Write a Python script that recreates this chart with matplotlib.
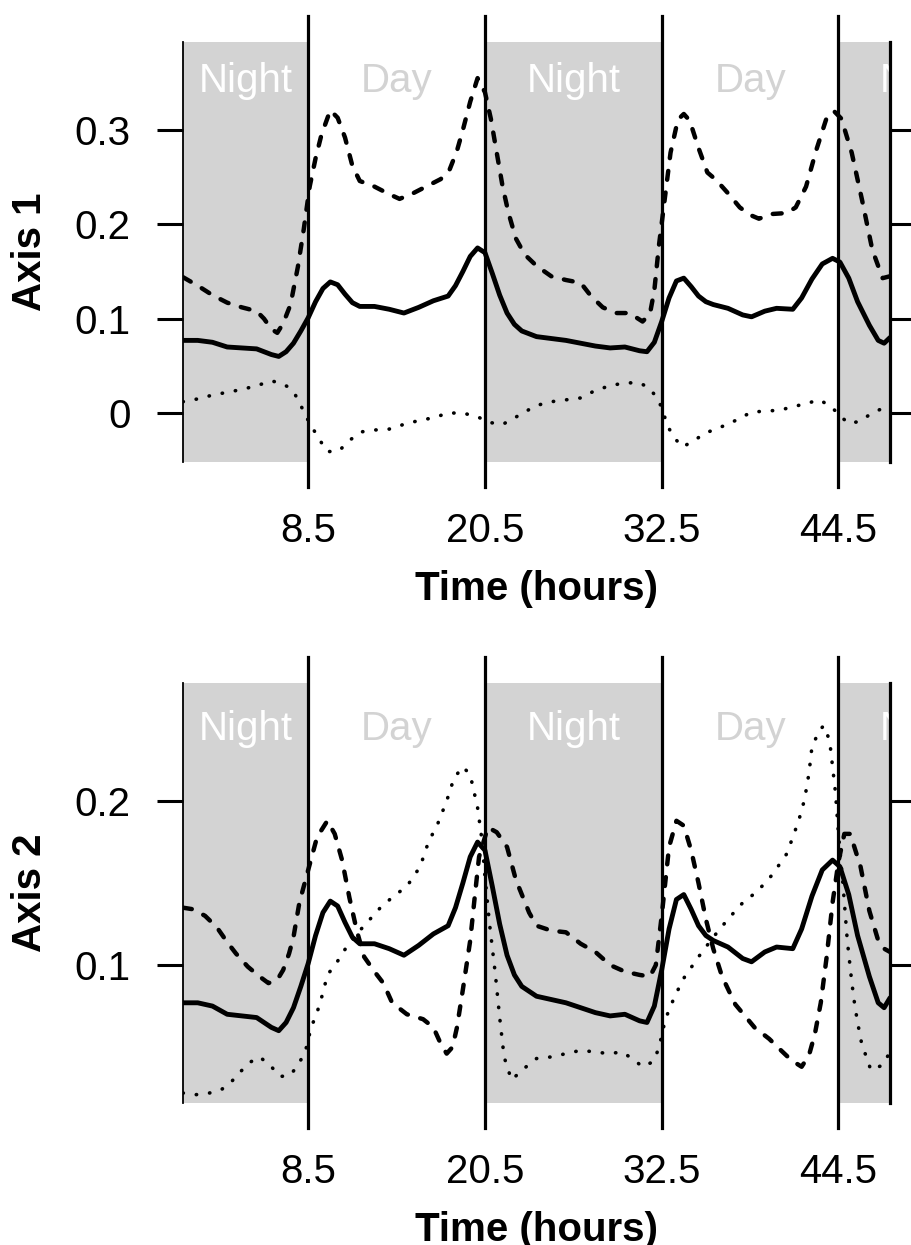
import matplotlib
matplotlib.use("Agg")
import matplotlib.pyplot as plt
import matplotlib.transforms as mtransforms

plt.rcParams["font.family"] = ["Liberation Sans", "DejaVu Sans"]

# light/dark boundaries (hours) and the shaded night spans
BOUNDS = [8.5, 20.5, 32.5, 44.5]
NIGHTS = [(0, 8.5), (20.5, 32.5), (44.5, 48)]
LABEL_X = [4.25, 14.5, 26.5, 38.5, 50.5]
LABEL_TXT = ["Night", "Day", "Night", "Day", "Night"]

# solid curve (same in both panels)
solid_t = [0, 1, 2, 3, 4, 5, 6, 6.5, 7, 7.5, 8, 8.5, 9, 9.5, 10, 10.5, 11, 11.5,
           12, 13, 14, 15, 16, 17, 18, 18.5, 19, 19.5, 20, 20.5, 21, 21.5, 22,
           22.5, 23, 24, 25, 26, 27, 28, 29, 30, 31, 31.5, 32, 32.5, 33, 33.5,
           34, 34.5, 35, 35.5, 36, 37, 38, 38.6, 39.5, 40.3, 41.4, 42, 42.7,
           43.4, 44.1, 44.6, 45.2, 45.8, 46.6, 47.2, 47.6, 48]
solid_v = [0.077, 0.077, 0.075, 0.070, 0.069, 0.068, 0.062, 0.060, 0.065, 0.074,
           0.087, 0.101, 0.118, 0.132, 0.139, 0.136, 0.126, 0.117, 0.113, 0.113,
           0.110, 0.106, 0.112, 0.119, 0.124, 0.135, 0.150, 0.166, 0.175, 0.170,
           0.148, 0.125, 0.106, 0.094, 0.087, 0.081, 0.079, 0.077, 0.074, 0.071,
           0.069, 0.070, 0.066, 0.065, 0.075, 0.097, 0.122, 0.140, 0.143, 0.134,
           0.124, 0.118, 0.115, 0.111, 0.104, 0.102, 0.108, 0.111, 0.110, 0.122,
           0.142, 0.158, 0.164, 0.160, 0.143, 0.118, 0.093, 0.077, 0.074, 0.080]

# axis 1: dashed and dotted
a1_dash_t = [0, 1, 2, 3, 4, 5, 5.5, 6, 6.4, 6.8, 7.3, 7.8, 8.2, 8.6, 9, 9.4, 10,
             10.5, 11, 11.5, 12, 13, 14, 14.7, 15.5, 16.5, 17.5, 18.1, 18.6, 19,
             19.5, 20, 20.5, 20.9, 21.3, 21.7, 22.1, 22.6, 23.2, 24, 25, 26, 27,
             27.7, 28.5, 29.4, 30.3, 31.2, 31.7, 32, 32.3, 32.7, 33.1, 33.6, 34,
             34.4, 35, 35.6, 36.2, 37, 37.8, 38.5, 39.1, 40, 41, 41.6, 42.3, 43,
             43.7, 44.2, 44.7, 45.4, 46.1, 46.8, 47.5, 48]
a1_dash_v = [0.144, 0.135, 0.125, 0.117, 0.112, 0.108, 0.100, 0.089, 0.085, 0.095,
             0.115, 0.155, 0.195, 0.240, 0.270, 0.295, 0.321, 0.313, 0.292, 0.262,
             0.246, 0.240, 0.232, 0.227, 0.232, 0.240, 0.248, 0.258, 0.278, 0.300,
             0.330, 0.355, 0.340, 0.312, 0.276, 0.240, 0.212, 0.185, 0.168, 0.156,
             0.145, 0.141, 0.138, 0.124, 0.112, 0.106, 0.106, 0.097, 0.105, 0.130,
             0.176, 0.226, 0.276, 0.311, 0.317, 0.310, 0.281, 0.255, 0.247, 0.233,
             0.218, 0.210, 0.206, 0.211, 0.212, 0.218, 0.240, 0.279, 0.313, 0.320,
             0.312, 0.276, 0.226, 0.173, 0.143, 0.145]
a1_dot_t = [0, 1, 2, 3, 4, 5, 6, 6.6, 7.1, 7.6, 8.0, 8.4, 8.8, 9.3, 9.8, 10.6, 11.3,
            12.1, 13, 14, 15, 16, 17, 18, 19, 20, 20.8, 21.7, 22.3, 23.3, 24, 25,
            26, 27, 28, 29, 30, 31, 31.6, 32.1, 32.5, 32.9, 33.4, 33.9, 34.5, 35.5,
            36.5, 37.5, 38.6, 39.5, 40.5, 41.5, 42.3, 43.2, 44, 44.6, 45.2, 45.9,
            46.8, 47.5, 48]
a1_dot_v = [0.012, 0.015, 0.019, 0.022, 0.025, 0.029, 0.034, 0.032, 0.028, 0.020,
            0.008, -0.005, -0.016, -0.029, -0.041, -0.040, -0.029, -0.020, -0.018,
            -0.017, -0.012, -0.008, -0.005, 0.000, 0.000, -0.004, -0.010, -0.012,
            -0.007, 0.002, 0.008, 0.012, 0.014, 0.016, 0.024, 0.029, 0.032, 0.032,
            0.027, 0.018, 0.006, -0.014, -0.027, -0.036, -0.031, -0.021, -0.015,
            -0.008, 0.001, 0.002, 0.003, 0.007, 0.010, 0.014, 0.007, -0.003,
            -0.011, -0.009, 0.000, 0.005, 0.009]

# axis 2: dashed and dotted
a2_dash_t = [0, 0.7, 1.5, 2.3, 3, 3.6, 4.4, 5.2, 5.8, 6.4, 6.8, 7.2, 7.5, 7.9, 8.5,
             9.1, 9.8, 10.3, 10.8, 11.3, 11.8, 12.3, 13, 13.6, 14.2, 15.2, 16.3,
             17, 17.5, 17.9, 18.3, 18.6, 19, 19.5, 19.8, 20.1, 20.7, 21.3, 22,
             22.6, 23.5, 24, 25, 26, 27, 28, 29, 30, 31, 31.7, 32.1, 32.5, 33,
             33.5, 34, 34.5, 35, 35.5, 36, 36.6, 37.5, 38.8, 39.8, 40.6, 41.3, 42,
             42.5, 42.9, 43.3, 43.7, 44.1, 44.5, 44.9, 45.3, 46, 46.6, 47.2, 47.6,
             48]
a2_dash_v = [0.135, 0.134, 0.130, 0.123, 0.114, 0.107, 0.099, 0.093, 0.089, 0.091,
             0.097, 0.107, 0.117, 0.138, 0.158, 0.178, 0.188, 0.180, 0.164, 0.141,
             0.121, 0.105, 0.096, 0.089, 0.077, 0.070, 0.067, 0.062, 0.052, 0.046,
             0.050, 0.062, 0.085, 0.115, 0.141, 0.166, 0.184, 0.181, 0.172, 0.152,
             0.132, 0.124, 0.121, 0.120, 0.113, 0.108, 0.100, 0.096, 0.094, 0.093,
             0.100, 0.130, 0.172, 0.188, 0.185, 0.170, 0.150, 0.128, 0.110, 0.093,
             0.076, 0.062, 0.055, 0.048, 0.042, 0.038, 0.045, 0.058, 0.077, 0.105,
             0.138, 0.163, 0.180, 0.180, 0.160, 0.133, 0.115, 0.110, 0.108]
a2_dot_t = [0, 0.9, 1.8, 2.6, 3.3, 3.9, 4.6, 5.2, 5.9, 6.6, 7.3, 7.8, 8.3, 8.7, 9.1,
            9.5, 9.8, 10.4, 11.1, 12, 13.4, 14.3, 15.2, 16.1, 16.7, 17.2, 17.9,
            18.4, 19, 19.5, 20, 20.3, 20.5, 20.8, 21.2, 21.5, 21.8, 22.3, 23.3, 24,
            25, 26, 27, 28, 28.9, 29.8, 30.5, 31.2, 31.9, 32.3, 32.7, 33, 33.5, 34,
            35, 36, 37, 38, 39, 40, 41, 41.4, 41.8, 42.2, 42.5, 42.7, 43.2, 43.5,
            43.9, 44.1, 44.3, 44.5, 44.8, 45.1, 45.4, 45.6, 45.8, 46.1, 46.4, 46.7,
            47.5, 48]
a2_dot_v = [0.022, 0.021, 0.022, 0.024, 0.029, 0.035, 0.041, 0.044, 0.039, 0.032,
            0.033, 0.039, 0.047, 0.062, 0.071, 0.083, 0.094, 0.101, 0.111, 0.121,
            0.135, 0.142, 0.148, 0.160, 0.176, 0.184, 0.200, 0.214, 0.221, 0.216,
            0.196, 0.176, 0.154, 0.126, 0.095, 0.068, 0.044, 0.030, 0.038, 0.043,
            0.044, 0.046, 0.048, 0.047, 0.046, 0.047, 0.043, 0.038, 0.041, 0.049,
            0.065, 0.073, 0.083, 0.092, 0.105, 0.117, 0.128, 0.138, 0.145, 0.155,
            0.168, 0.178, 0.188, 0.201, 0.217, 0.233, 0.243, 0.246, 0.237, 0.221,
            0.205, 0.180, 0.150, 0.115, 0.090, 0.076, 0.065, 0.051, 0.044, 0.036,
            0.039, 0.047]

FS = 29


def draw_panel(ax, dash_t, dash_v, dot_t, dot_v, ylim, yticks, ylabel, label_y):
    ax.set_xlim(0, 48)
    ax.set_ylim(*ylim)
    trans = mtransforms.blended_transform_factory(ax.transData, ax.transAxes)

    for a, b in NIGHTS:
        ax.axvspan(a, b, color="#d3d3d3", lw=0, zorder=0)
    for x, s in zip(LABEL_X, LABEL_TXT):
        ax.text(x, label_y, s, transform=trans, ha="center", va="baseline",
                fontsize=FS, color="white" if s == "Night" else "#d3d3d3",
                clip_on=True, zorder=1)
    for b in BOUNDS:
        ax.plot([b, b], [-0.06, 1.062], transform=trans, color="black", lw=2.3,
                clip_on=False, zorder=2)

    ax.plot(solid_t, solid_v, color="black", lw=3.5, solid_capstyle="round",
            solid_joinstyle="round", zorder=3)
    ax.plot(dash_t, dash_v, color="black", lw=3.2, linestyle=(0, (2.0, 2.9)),
            dash_capstyle="round", dash_joinstyle="round", zorder=3)
    ax.plot(dot_t, dot_v, color="black", lw=2.6, linestyle=(0, (0.1, 3.6)),
            dash_capstyle="round", zorder=3)

    for side in ("top", "bottom"):
        ax.spines[side].set_visible(False)
    ax.spines["left"].set_linewidth(1.3)
    ax.spines["right"].set_linewidth(2.3)

    ax.set_yticks(yticks)
    ax.set_yticklabels([("%g" % v) for v in yticks])
    ax.tick_params(axis="y", left=True, right=True, labelright=False,
                   direction="out", length=18.7, width=2.2, pad=19, labelsize=FS)
    ax.set_xticks(BOUNDS)
    ax.set_xticklabels([("%g" % v) for v in BOUNDS])
    ax.tick_params(axis="x", length=0, pad=36, labelsize=FS)

    ax.annotate("Time (hours)", xy=(0.5, 0), xycoords="axes fraction",
                xytext=(0, -99.4), textcoords="offset points", ha="center",
                va="baseline", fontsize=FS, fontweight="bold")
    ax.annotate(ylabel, xy=(0, 0.5), xycoords="axes fraction",
                xytext=(-110, 0), textcoords="offset points", ha="center",
                va="center", rotation=90, fontsize=FS, fontweight="bold")


fig = plt.figure(figsize=(9.11, 12.45), dpi=100)
ax1 = fig.add_axes([183 / 911, 1 - 462 / 1245, 707 / 911, 420 / 1245])
ax2 = fig.add_axes([183 / 911, 1 - 1103 / 1245, 707 / 911, 420 / 1245])

draw_panel(ax1, a1_dash_t, a1_dash_v, a1_dot_t, a1_dot_v, (-0.0519, 0.3933),
           [0, 0.1, 0.2, 0.3], "Axis 1", 1 - 50 / 420)
draw_panel(ax2, a2_dash_t, a2_dash_v, a2_dot_t, a2_dot_v, (0.0159, 0.272),
           [0.1, 0.2], "Axis 2", 1 - 57 / 420)

fig.savefig("out.png", dpi=100)
